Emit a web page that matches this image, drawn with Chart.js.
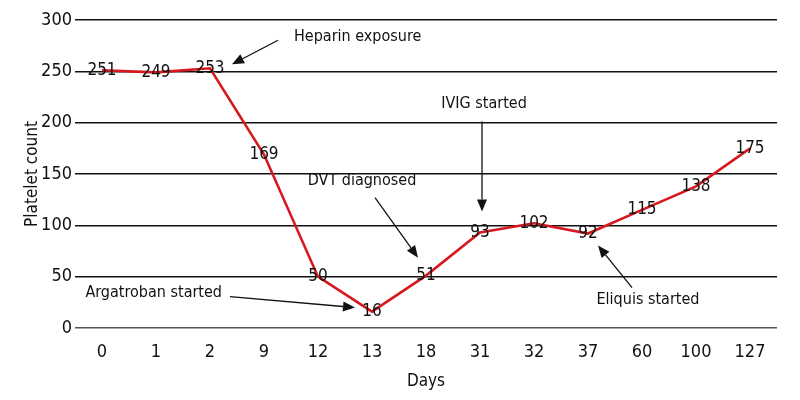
<!DOCTYPE html>
<html>
<head>
<meta charset="utf-8">
<script src="https://cdn.jsdelivr.net/npm/chart.js@4"></script>
<style>
  html, body { margin: 0; padding: 0; background: #fff; }
  #wrap { width: 800px; height: 400px; }
</style>
</head>
<body>
<div id="wrap"><canvas id="plateletChart"></canvas></div>
<script>
const days = ['0', '1', '2', '9', '12', '13', '18', '31', '32', '37', '60', '100', '127']
const plateletCounts = [251, 249, 253, 169, 50, 16, 51, 93, 102, 92, 115, 138, 175]
const yTicks = [0, 50, 100, 150, 200, 250, 300]

// notes pointing at data points (index into the arrays above)
const notes = [
  { text: 'Heparin exposure', idx: 2, tip: [22, -4], tail: [68, -28], label: [84, -31], align: 'left' },
  { text: 'Argatroban started', idx: 5, tip: [-17, -4], tail: [-142, -15], label: [-150, -19], align: 'right' },
  { text: 'DVT diagnosed', idx: 6, tip: [-8, -18], tail: [-51, -78], label: [-64, -95], align: 'center' },
  { text: 'IVIG started', idx: 7, tip: [2, -21], tail: [2, -111], label: [4, -129], align: 'center' },
  { text: 'Eliquis started', idx: 9, tip: [10, 12], tail: [44, 54], label: [60, 66], align: 'center' }
]

const FONT = "'Liberation Sans Narrow', 'DejaVu Sans Condensed', sans-serif"
Chart.defaults.font.family = FONT
Chart.defaults.color = '#111'

const pointLabels = {
  id: 'pointLabels',
  afterDatasetsDraw(chart) {
    const ctx = chart.ctx
    const meta = chart.getDatasetMeta(0)
    ctx.save()
    ctx.font = '17px ' + FONT
    ctx.fillStyle = '#111'
    ctx.textAlign = 'center'
    ctx.textBaseline = 'middle'
    meta.data.forEach((pt, i) => {
      ctx.fillText(String(plateletCounts[i]), pt.x, pt.y)
    })
    ctx.restore()
  }
}

const arrowNotes = {
  id: 'arrowNotes',
  afterDraw(chart) {
    const ctx = chart.ctx
    const xs = chart.scales.x
    const ys = chart.scales.y
    ctx.save()
    ctx.strokeStyle = '#111'
    ctx.fillStyle = '#111'
    ctx.lineWidth = 1.3
    ctx.font = '16px ' + FONT
    ctx.textBaseline = 'middle'
    notes.forEach(n => {
      const px = xs.getPixelForValue(n.idx)
      const py = ys.getPixelForValue(plateletCounts[n.idx])
      const tx = px + n.tip[0], ty = py + n.tip[1]
      const sx = px + n.tail[0], sy = py + n.tail[1]
      const ang = Math.atan2(ty - sy, tx - sx)
      const head = 12
      const bx = tx - head * Math.cos(ang), by = ty - head * Math.sin(ang)
      ctx.beginPath()
      ctx.moveTo(sx, sy)
      ctx.lineTo(bx, by)
      ctx.stroke()
      ctx.beginPath()
      ctx.moveTo(tx, ty)
      ctx.lineTo(bx + 5 * Math.sin(ang), by - 5 * Math.cos(ang))
      ctx.lineTo(bx - 5 * Math.sin(ang), by + 5 * Math.cos(ang))
      ctx.closePath()
      ctx.fill()
      ctx.textAlign = n.align
      ctx.fillText(n.text, px + n.label[0], py + n.label[1])
    })
    ctx.restore()
  }
}

new Chart(document.getElementById('plateletChart'), {
  type: 'line',
  data: {
    labels: days,
    datasets: [{
      label: 'Platelet count',
      data: plateletCounts,
      borderColor: '#d7191f',
      borderWidth: 2.6,
      pointRadius: 0,
      tension: 0,
      fill: false
    }]
  },
  options: {
    responsive: true,
    maintainAspectRatio: false,
    animation: false,
    layout: { padding: { top: 20, right: 23, left: 18, bottom: 4 } },
    plugins: {
      legend: { display: false },
      tooltip: { enabled: false }
    },
    scales: {
      x: {
        offset: true,
        grid: { display: false },
        border: { display: false },
        ticks: { font: { size: 18 }, color: '#111', padding: 6, maxRotation: 0 },
        title: { display: true, text: 'Days', font: { size: 17 }, color: '#111', padding: { top: 2 } }
      },
      y: {
        min: 0,
        max: 300,
        afterBuildTicks: axis => { axis.ticks = yTicks.map(v => ({ value: v })) },
        afterFit: axis => { axis.width = 57 },
        grid: {
          drawTicks: false,
          lineWidth: 1.5,
          color: c => c.tick && c.tick.value === 0 ? '#555' : '#111'
        },
        border: { display: false },
        ticks: { font: { size: 18 }, color: '#111', padding: 3 },
        title: { display: true, text: 'Platelet count', font: { size: 17 }, color: '#111', padding: { bottom: 0 } }
      }
    }
  },
  plugins: [pointLabels, arrowNotes]
})
</script>
</body>
</html>
